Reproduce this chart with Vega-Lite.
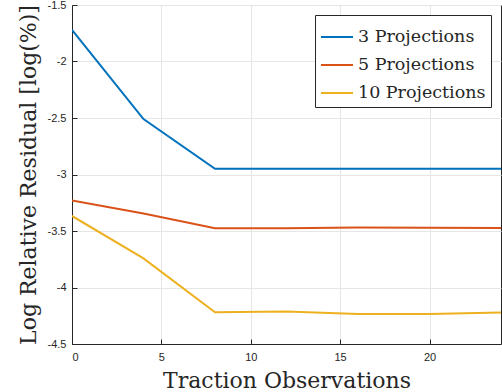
{
  "$schema": "https://vega.github.io/schema/vega-lite/v6.json",
  "width": 429,
  "height": 339,
  "autosize": "none",
  "padding": {"left": 72, "top": 5, "right": 1, "bottom": 48},
  "background": "white",
  "config": {
    "view": {"stroke": "#262626", "strokeWidth": 1},
    "axis": {
      "labelFont": "Liberation Sans",
      "labelFontSize": 11,
      "labelColor": "#262626",
      "domainColor": "#262626",
      "tickColor": "#262626",
      "gridColor": "#e6e6e6",
      "gridOpacity": 1,
      "titleFont": "DejaVu Serif",
      "titleFontSize": 22,
      "titleFontWeight": "normal",
      "titleColor": "#262626"
    }
  },
  "data": {
    "values": [
      {"obs": 0, "val": -1.72, "series": "3 Projections"},
      {"obs": 4, "val": -2.51, "series": "3 Projections"},
      {"obs": 8, "val": -2.95, "series": "3 Projections"},
      {"obs": 12, "val": -2.95, "series": "3 Projections"},
      {"obs": 16, "val": -2.95, "series": "3 Projections"},
      {"obs": 20, "val": -2.95, "series": "3 Projections"},
      {"obs": 24, "val": -2.95, "series": "3 Projections"},
      {"obs": 0, "val": -3.23, "series": "5 Projections"},
      {"obs": 4, "val": -3.345, "series": "5 Projections"},
      {"obs": 8, "val": -3.475, "series": "5 Projections"},
      {"obs": 12, "val": -3.475, "series": "5 Projections"},
      {"obs": 16, "val": -3.47, "series": "5 Projections"},
      {"obs": 20, "val": -3.472, "series": "5 Projections"},
      {"obs": 24, "val": -3.473, "series": "5 Projections"},
      {"obs": 0, "val": -3.367, "series": "10 Projections"},
      {"obs": 4, "val": -3.742, "series": "10 Projections"},
      {"obs": 8, "val": -4.22, "series": "10 Projections"},
      {"obs": 12, "val": -4.212, "series": "10 Projections"},
      {"obs": 16, "val": -4.235, "series": "10 Projections"},
      {"obs": 20, "val": -4.234, "series": "10 Projections"},
      {"obs": 24, "val": -4.222, "series": "10 Projections"}
    ]
  },
  "mark": {"type": "line", "strokeWidth": 2, "clip": true},
  "encoding": {
    "x": {
      "field": "obs",
      "type": "quantitative",
      "scale": {"domain": [0, 24], "nice": false, "zero": false},
      "axis": {
        "title": "Traction Observations",
        "values": [0, 5, 10, 15, 20],
        "tickSize": -5,
        "labelPadding": 12,
        "titlePadding": 8,
        "labelExpr": "'' + datum.value"
      }
    },
    "y": {
      "field": "val",
      "type": "quantitative",
      "scale": {"domain": [-4.5, -1.5], "nice": false, "zero": false},
      "axis": {
        "title": "Log Relative Residual [log(%)]",
        "values": [-4.5, -4, -3.5, -3, -2.5, -2, -1.5],
        "tickSize": -5,
        "labelPadding": 11,
        "titlePadding": 7,
        "labelExpr": "'' + datum.value"
      }
    },
    "color": {
      "field": "series",
      "type": "nominal",
      "scale": {
        "domain": ["3 Projections", "5 Projections", "10 Projections"],
        "range": ["#0072BD", "#D95319", "#EDB120"]
      },
      "legend": {
        "title": null,
        "orient": "top-right",
        "offset": 10,
        "fillColor": "white",
        "strokeColor": "#262626",
        "padding": 5,
        "symbolType": "stroke",
        "symbolSize": 1024,
        "symbolStrokeWidth": 2,
        "labelFont": "DejaVu Serif",
        "labelFontSize": 17.5,
        "labelColor": "#262626",
        "labelLimit": 300,
        "rowPadding": 2,
        "labelOffset": 4
      }
    }
  }
}
